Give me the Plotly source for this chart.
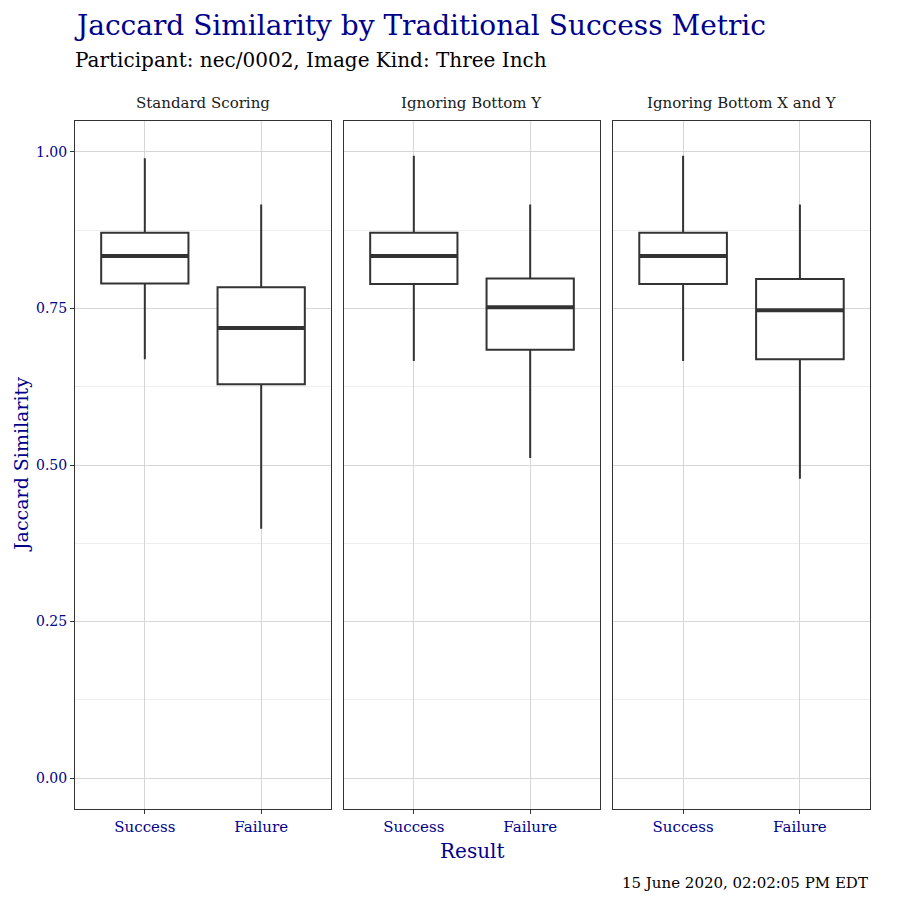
import plotly.graph_objects as go

# ---------------- data ----------------
panels = ["Standard Scoring", "Ignoring Bottom Y", "Ignoring Bottom X and Y"]
categories = ["Success", "Failure"]
lower_whisker = [[0.669, 0.398], [0.666, 0.511], [0.666, 0.478]]
q1_values = [[0.790, 0.629], [0.789, 0.684], [0.789, 0.669]]
median_values = [[0.834, 0.719], [0.834, 0.752], [0.834, 0.747]]
q3_values = [[0.871, 0.784], [0.871, 0.798], [0.871, 0.797]]
upper_whisker = [[0.990, 0.916], [0.994, 0.916], [0.994, 0.916]]
y_ticks = [0.0, 0.25, 0.5, 0.75, 1.0]
y_tick_labels = ["0.00", "0.25", "0.50", "0.75", "1.00"]
y_minor = [0.125, 0.375, 0.625, 0.875]

title_text = "Jaccard Similarity by Traditional Success Metric"
subtitle_text = "Participant: nec/0002, Image Kind: Three Inch"
caption_text = "15 June 2020, 02:02:05 PM EDT"
x_title = "Result"
y_title = "Jaccard Similarity"

# ---------------- style ----------------
FONT = "'DejaVu Serif', Palatino, 'Palatino Linotype', serif"
BLUE = "#00008B"
INK = "#333333"
BOX_W = 0.75
OFF = 8  # page body margin
W, H = 900 - OFF, 900 - OFF


def px_x(v):
    return (v - OFF) / W


def px_y(v):
    return 1 - (v - OFF) / H


x_domains = [[px_x(75), px_x(331)], [px_x(344), px_x(600)], [px_x(613), px_x(870)]]
y_domain = [px_y(809), px_y(121)]
positions = [1, 2]

fig = go.Figure()

for p in range(len(panels)):
    xa = "x" if p == 0 else f"x{p+1}"
    ya = "y" if p == 0 else f"y{p+1}"
    fig.add_trace(go.Box(
        x=positions,
        q1=q1_values[p], median=median_values[p], q3=q3_values[p],
        lowerfence=lower_whisker[p], upperfence=upper_whisker[p],
        width=BOX_W, whiskerwidth=0,
        fillcolor="white", line=dict(color=INK, width=2),
        boxpoints=False, hoverinfo="skip", showlegend=False,
        xaxis=xa, yaxis=ya,
    ))
    mx, my = [], []
    for i, pos in enumerate(positions):
        mx += [pos - BOX_W / 2, pos + BOX_W / 2, None]
        my += [median_values[p][i], median_values[p][i], None]
    fig.add_trace(go.Scatter(
        x=mx, y=my, mode="lines", line=dict(color=INK, width=4),
        hoverinfo="skip", showlegend=False, xaxis=xa, yaxis=ya,
    ))

layout = dict(
    width=W, height=H,
    margin=dict(l=0, r=0, t=0, b=0),
    paper_bgcolor="white", plot_bgcolor="white",
    font=dict(family=FONT, color="black"),
    showlegend=False,
)

for p in range(len(panels)):
    xkey = "xaxis" if p == 0 else f"xaxis{p+1}"
    ykey = "yaxis" if p == 0 else f"yaxis{p+1}"
    layout[xkey] = dict(
        domain=x_domains[p], range=[0.4, 2.6],
        anchor="y" if p == 0 else f"y{p+1}",
        tickmode="array", tickvals=positions, ticktext=categories,
        tickfont=dict(family=FONT, size=15, color=BLUE),
        ticks="outside", ticklen=4, tickcolor=INK, tickwidth=1,
        showgrid=True, gridcolor="#d6d6d6", gridwidth=1,
        showline=True, mirror=True, linecolor=INK, linewidth=1,
        zeroline=False, fixedrange=True,
    )
    layout[ykey] = dict(
        domain=y_domain, range=[-0.0495, 1.0495],
        anchor="x" if p == 0 else f"x{p+1}",
        tickmode="array", tickvals=y_ticks, ticktext=y_tick_labels,
        showticklabels=(p == 0),
        tickfont=dict(family=FONT, size=14, color=BLUE),
        ticks="outside" if p == 0 else "", ticklen=4, tickcolor=INK, tickwidth=1,
        showgrid=True, gridcolor="#d6d6d6", gridwidth=1,
        minor=dict(tickmode="array", tickvals=y_minor, showgrid=True,
                   gridcolor="#eeeeee", gridwidth=1, ticks=""),
        showline=True, mirror=True, linecolor=INK, linewidth=1,
        zeroline=False, fixedrange=True,
    )

annotations = []
for p, name in enumerate(panels):
    annotations.append(dict(
        text=name, xref="paper", yref="paper",
        x=(x_domains[p][0] + x_domains[p][1]) / 2, y=px_y(103),
        xanchor="center", yanchor="middle", showarrow=False,
        font=dict(family=FONT, size=15, color="#1a1a1a"),
    ))
annotations += [
    dict(text=title_text, xref="paper", yref="paper", x=px_x(72), y=px_y(25),
         xanchor="left", yanchor="middle", showarrow=False,
         font=dict(family=FONT, size=28, color=BLUE)),
    dict(text=subtitle_text, xref="paper", yref="paper", x=px_x(73), y=px_y(60),
         xanchor="left", yanchor="middle", showarrow=False,
         font=dict(family=FONT, size=20, color="black")),
    dict(text=x_title, xref="paper", yref="paper", x=px_x(472), y=px_y(851),
         xanchor="center", yanchor="middle", showarrow=False,
         font=dict(family=FONT, size=20, color=BLUE)),
    dict(text=y_title, xref="paper", yref="paper", x=px_x(21), y=px_y(465),
         xanchor="center", yanchor="middle", showarrow=False, textangle=-90,
         font=dict(family=FONT, size=19, color=BLUE)),
    dict(text=caption_text, xref="paper", yref="paper", x=px_x(870), y=px_y(883),
         xanchor="right", yanchor="middle", showarrow=False,
         font=dict(family=FONT, size=15, color="black")),
]
layout["annotations"] = annotations

fig.update_layout(**layout)
fig.write_html("out.html")
